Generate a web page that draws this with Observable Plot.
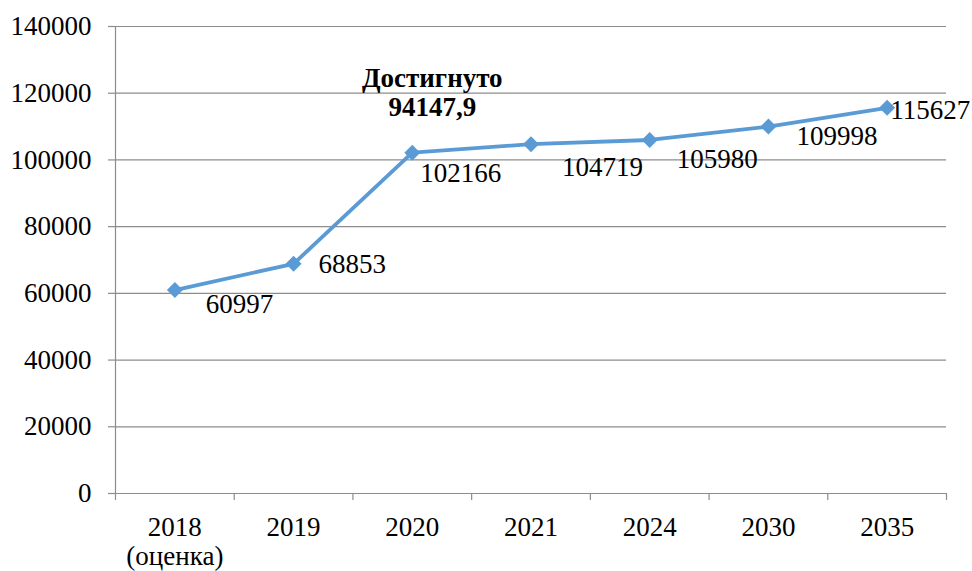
<!DOCTYPE html>
<html>
<head>
<meta charset="utf-8">
<script src="https://cdn.jsdelivr.net/npm/d3@7"></script>
<script src="https://cdn.jsdelivr.net/npm/@observablehq/plot@0.6"></script>
<style>
  body { margin: 0; background: #fff; }
  #chart svg { display: block; }
  #chart svg, #chart svg text { font-family: "Liberation Serif", "Times New Roman", serif !important; }
</style>
</head>
<body>
<div id="chart"></div>
<script>
// ---- data ----
const categories = ["2018\n(оценка)", "2019", "2020", "2021", "2024", "2030", "2035"];
const values = [60997, 68853, 102166, 104719, 105980, 109998, 115627];
const valueLabels = ["60997", "68853", "102166", "104719", "105980", "109998", "115627"];
const yTicks = [0, 20000, 40000, 60000, 80000, 100000, 120000, 140000];
const annotationText = "Достигнуто\n94147,9";
const annotationCategory = "2020";
const annotationValue = 120400;

// ---- layout (label offsets in px, kept apart from data) ----
const labelDx = [31, 25, 8, 31, 27, 28, 3];
const labelDy = [14, 1, 21, 23, 19, 10, 3];

const font = "Liberation Serif";
const gridColor = "#8c8c8c";
const lineColor = "#5B9BD5";

const data = categories.map((c, i) => ({i, category: c, value: values[i], label: valueLabels[i]}));
const boundaries = d3.range(-0.5, categories.length, 1);
const annIndex = categories.indexOf(annotationCategory);

const labelMarks = data.map((d, k) =>
  Plot.text([d], {
    x: "i", y: "value", text: "label",
    textAnchor: "start", lineAnchor: "middle",
    dx: labelDx[k], dy: labelDy[k],
    fontSize: 27, fontFamily: font, fill: "#000"
  })
);

const chart = Plot.plot({
  width: 972,
  height: 571,
  marginLeft: 115,
  marginRight: 26,
  marginTop: 26,
  marginBottom: 78,
  style: {fontFamily: font, background: "#fff", color: "#000", overflow: "visible"},
  x: {type: "linear", domain: [-0.5, categories.length - 0.5]},
  y: {domain: [0, 140000]},
  marks: [
    Plot.gridY(yTicks, {stroke: gridColor, strokeOpacity: 1, strokeWidth: 1.2}),
    Plot.axisY(yTicks, {
      tickSize: 7, tickPadding: 17, stroke: gridColor, strokeWidth: 1.2, fill: "#000",
      tickFormat: d => String(d), fontSize: 27, fontFamily: font, label: null
    }),
    Plot.ruleX([-0.5], {y1: 0, y2: 140000, stroke: gridColor, strokeWidth: 1.2}),
    Plot.axisX(boundaries, {
      tickSize: 7, stroke: gridColor, strokeWidth: 1.2, tickFormat: () => "", label: null
    }),
    Plot.axisX(d3.range(categories.length), {
      tickSize: 0, tickPadding: 22, tickFormat: i => categories[i],
      fontSize: 27, fontFamily: font, fill: "#000", lineHeight: 1.08, label: null
    }),
    Plot.line(data, {x: "i", y: "value", stroke: lineColor, strokeWidth: 3.8}),
    Plot.dot(data, {x: "i", y: "value", symbol: "diamond2", r: 7.2, fill: lineColor, stroke: "none"}),
    ...labelMarks,
    Plot.text([annotationText], {
      x: () => annIndex, y: () => annotationValue, dx: 20,
      text: d => d, fontWeight: "bold", fontSize: 27, fontFamily: font, lineHeight: 1.07,
      textAnchor: "middle", lineAnchor: "middle", fill: "#000"
    })
  ]
});

document.getElementById("chart").append(chart);
</script>
</body>
</html>
